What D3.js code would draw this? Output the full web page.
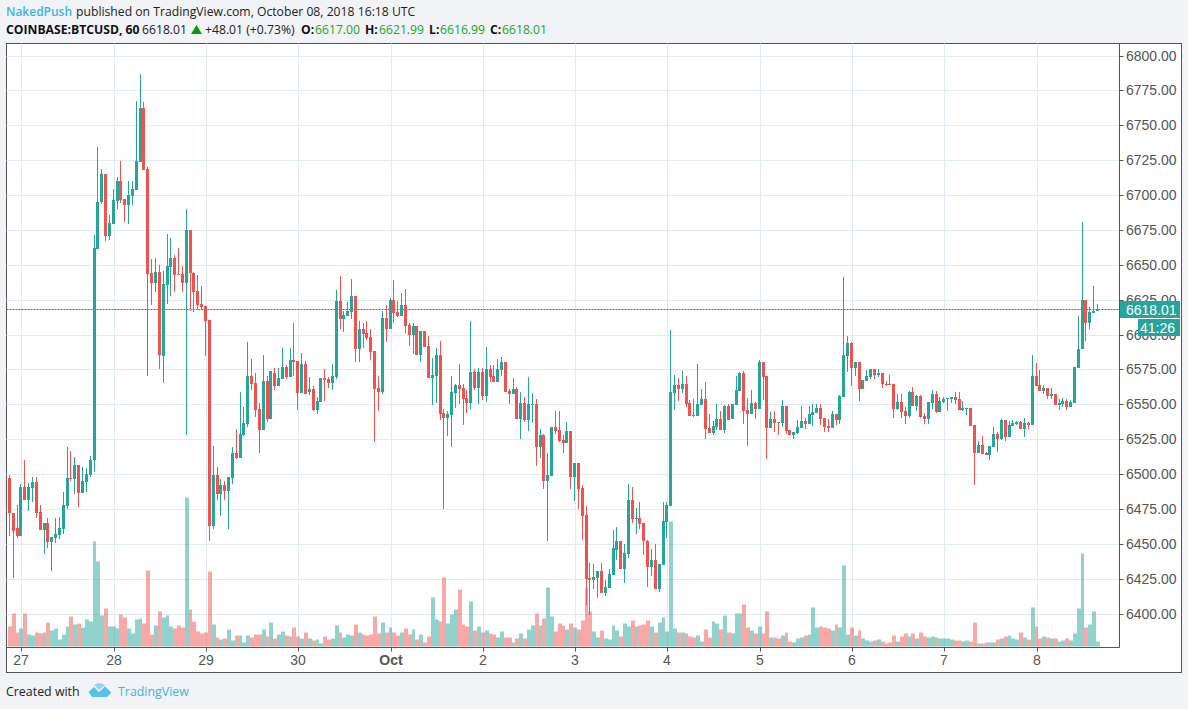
<!DOCTYPE HTML>
<html>
  <head>
    <meta charset="utf-8">
    <script src="https://d3js.org/d3.v7.min.js"></script>
    <style>
      body, html {
        width: 100%;
        height: 100%;
        margin: 0;
        background: #f1f3f6;
        overflow: hidden;
      }
      text {
        font-family: 'Open Sans', sans-serif;
      }
      .axis-label {
        font-family: 'Liberation Sans', sans-serif;
        font-size: 14px;
        fill: #555;
      }
    </style>
  </head>
  <body>
    <svg id="chart" width="1188" height="709"></svg>
    <script>
      // hourly candles, first one is 26 Sep 21:00 (hour -3 from 27 Sep 00:00)
      var firstHour = -3;
      var opens = [6497.4,6472.4,6461.7,6455.5,6491,6481.7,6490.2,6494.5,6473.1,6459.8,6465.2,6451.2,6454.5,6456.7,6461,6477.4,6497.4,6496.7,6506.7,6486.7,6494.5,6499.5,6509.8,
        6661.7,6695.2,6715.2,6671,6679.5,6696,6710.2,6697.4,6693.1,6699.5,6703.8,6723.8,6762.4,6718.8,6643.8,6636.7,6645.2,6584.5,6635.2,6648.8,6655.2,6643.1,6643.1,6636.7,6675.2,6644.5,6631,6621.7,6620.2,6610.2,
        6463.1,6499.5,6486,6492.4,6488.1,6497.4,6515.2,6511.7,6528.1,6536,6570.2,6565.2,6546.7,6531.7,6566.7,6539.5,6572.4,6563.1,6568.1,6576.7,6569.5,6581.7,
        6581,6558.1,6578.8,6558.8,6561,6546,6551.7,6568.8,6568.1,6565.2,6569.5,6623.8,6611,6613.1,6616,6627.4,6589.5,6603.8,6601,6598.1,6588.1,6561.7,6558.8,6611.7,
        6603.8,6624.5,6616,6613.1,6621,6606.7,6599.5,6606,6585.2,6602.4,6591.7,6568.8,6570.2,6585.2,6543.8,6540.2,6542.4,6558.1,6563.8,6561.7,6554.5,6551,
        6573.1,6561.7,6573.1,6556,6575.2,6570.2,6566,6574.5,6580.2,6559.5,6557.4,6561,6539.5,6551,6538.8,6549.5,6550.2,6519.5,6528.1,6495.2,6498.8,6533.8,6531.7,6524.5,6522.4,6531,6498.1,6508.1,6490.2,6471,
        6425.2,6423.8,6425.2,6430.2,6414.5,6418.1,6427.4,6445.9,6451.7,6431.7,6442.4,6481.7,6468.1,6468.8,6465.2,6452.4,6433.1,6438.1,6417.4,6434.5,6466,6477.4,
        6558.1,6563.8,6561,6564.5,6551,6542.4,6541.7,6549.5,6553.8,6533.1,6529.5,6533.8,6539.5,6531.7,6548.8,6539.5,6549.5,6559.5,6572.4,6546,6543.1,6551,6546.7,6580.2,
        6570.2,6533.1,6539.5,6537.4,6536.7,6548.8,6531.7,6528.1,6529.5,6533.1,6538.1,6536,6542.4,6543.8,6547.4,6540.2,6534.5,6533.1,6543.1,6538.8,6555.2,6584.5,6593.8,6576,6580.2,6561,6566.7,6569.5,6575.2,6571,
        6572.4,6564.5,6564.5,6564.5,6546.7,6551.7,6545.2,6541.7,6558.8,6548.8,6556,6541.7,6539.5,6551,6557.4,6544.5,6551.7,6553.8,6553.8,6555.2,6553.8,6546,6546.7,6547.4,6535.2,6515.2,6521,6515.2,6513.8,
        6519.5,6528.8,6525.2,6538.8,6526.7,6534.5,6536,6537.4,6532.4,6536.7,6535.2,6570.2,6563.8,6559.5,6561.7,6556,6557.4,6549.5,6550.2,6552.4,6548.1,6551,6576,6589.5,6624.5,6608.1,6615.2,6617];
      var highs = [6499.5,6472.4,6478.1,6493,6510.2,6493.8,6498.1,6498.1,6478.1,6465.2,6468.8,6455.2,6468.8,6469.5,6487.4,6519.5,6516.7,6512.4,6506.7,6505.2,6504.5,6513.1,6671.7,
        6734.5,6718.8,6715.2,6686,6704.5,6713.1,6724.5,6697.4,6710.2,6710.2,6767.4,6786.7,6766.7,6720.2,6654.5,6655.2,6650.2,6645.9,6672.4,6669.5,6657.4,6662.4,6649,6690.2,6675.2,6645.2,6642.4,6634.5,6620.2,6610.2,
        6520.2,6505.2,6496.7,6495.2,6498.1,6519.5,6532.4,6558.8,6548.1,6594.5,6582.4,6572.4,6551,6585.2,6570.2,6573.8,6576,6576,6590.2,6578.1,6590.2,6608.1,
        6581,6586.7,6581,6569.5,6563.1,6555.2,6568.8,6575.2,6569.5,6578.8,6631.7,6641.7,6616.7,6623.1,6640.2,6627.4,6609.5,6608.1,6609.5,6603.8,6588.1,6570.2,6616.7,6621,
        6626,6638.8,6623.8,6629.5,6632.4,6608.1,6608.1,6606,6602.4,6602.4,6598.8,6583.1,6590.2,6595.2,6546.7,6545.2,6570.2,6564.5,6578.8,6564.5,6560.2,6609.5,
        6575.2,6576,6576,6591,6578.1,6578.1,6582.4,6583.8,6580.2,6561,6568.8,6562.4,6558.8,6555.2,6569.5,6558.1,6553.8,6532.4,6528.8,6515.2,6533.8,6545.2,6545.2,6528.1,6537.4,6531,6508.1,6508.1,6492.4,6477.4,
        6436,6435.2,6430.2,6436,6423.8,6431.7,6460.2,6462.4,6451.7,6450.2,6493.1,6491,6476,6480.2,6465.2,6453.1,6446,6450.2,6435.2,6480.2,6480.2,6603.1,
        6571,6568.8,6573.8,6570.2,6553.1,6553.8,6578.8,6561,6566,6543.1,6538.1,6550.2,6545.2,6549.5,6550.2,6550.2,6570.2,6573.1,6573.8,6554.5,6560.2,6551.7,6581.7,6580.2,
        6570.2,6544.5,6545.2,6537.4,6553.1,6548.8,6531.7,6530.2,6538.8,6548.8,6540.2,6548.8,6550.2,6550.2,6550.2,6540.2,6539.5,6545.2,6543.1,6556.7,6641,6598.8,6594.5,6580.2,6580.2,6567.4,6574.5,6575.2,6575.2,6575.2,
        6572.4,6566.7,6571,6564.5,6557.4,6557.4,6548.1,6559.5,6562.4,6556.7,6556.7,6543.8,6551.7,6560.2,6559.5,6555.2,6555.2,6554.5,6555.2,6558.8,6558.8,6552.4,6547.4,6547.4,6535.2,6523.8,6527.4,6516,6520.2,
        6533.8,6530.2,6539.5,6538.8,6538.1,6538.8,6538.1,6538.1,6540.2,6537.4,6585.2,6579.5,6574.5,6563.8,6561.7,6561.7,6557.4,6553.8,6554.5,6553.8,6553.1,6576.7,6613.1,6681,6624.5,6619.5,6634.5,6621.99];
      var lows = [6455.5,6425.2,6454,6455.5,6481.7,6473.8,6480.2,6468.8,6459.8,6442.6,6446.9,6430.5,6450.5,6453.8,6457.4,6475.2,6495.2,6486,6476.7,6486.7,6487.4,6498.1,6501.7,
        6661.7,6693.8,6667.4,6668,6679.5,6690.2,6694.5,6681,6679.5,6693.1,6703.8,6723.8,6718.1,6570.2,6621,6630.2,6575.2,6565.2,6621.7,6627.4,6630.2,6642.4,6630.2,6528.1,6616.7,6616,6617.4,6617.4,6584.5,6452.4,
        6461,6481.7,6470.2,6481.7,6461,6493.1,6511,6511.7,6527.4,6533.8,6560.2,6541,6515.2,6531.7,6537.4,6539.5,6560.2,6563.1,6568.1,6568.1,6569.5,6570.2,
        6546,6558.1,6557.4,6556.7,6545.2,6543.1,6551.7,6552.4,6561.7,6560.2,6568.1,6603.8,6601.7,6613.1,6611,6580.2,6580.2,6590.2,6596,6581.7,6523.1,6545.2,6557.4,6594.5,
        6603.8,6608.1,6612.4,6613.1,6601,6591.7,6586,6585.2,6580.2,6591,6568.8,6549.5,6551,6538.8,6475.2,6527.4,6519.5,6547.4,6550.2,6535.2,6543.8,6546.7,
        6560.2,6550.2,6553.1,6551.7,6566,6566,6566,6570.2,6558.8,6550.2,6557.4,6539.5,6525.2,6537.4,6531,6536.7,6506,6511.7,6489.5,6452.4,6498.8,6528.8,6523.1,6515.2,6522.4,6489.5,6481,6475.2,6453.1,6406,
        6399,6417.4,6411,6414.5,6412.4,6418.1,6427.4,6438.1,6431.7,6421.7,6440.2,6465.2,6457.4,6461,6441.7,6418.8,6426.7,6417.4,6415.2,6434.5,6454.5,6477.4,
        6546,6552.4,6558.1,6548.1,6541.7,6541,6541.7,6549.5,6525.2,6529.5,6528.1,6531.7,6531.7,6529.5,6538.8,6539.5,6549.5,6559.5,6536,6520.2,6543.1,6539.5,6546.7,6553.1,
        6511,6533.1,6530.2,6528.1,6533.8,6528.8,6528.1,6525.2,6528.8,6533.1,6532.4,6536,6534.5,6543.8,6535.2,6530.2,6530.2,6533.1,6535.2,6536,6555.2,6573.1,6563.1,6570.2,6552.4,6561,6566.7,6568.1,6568.1,6569.5,
        6561.7,6563.1,6563.8,6540.2,6546,6540.2,6536,6540.2,6548.8,6545.2,6540.2,6536,6536,6546.7,6543.8,6544.5,6551,6545.2,6551,6550.2,6546,6545.2,6542.4,6534.5,6492.4,6515.2,6514.5,6513.8,6510.2,
        6519.5,6516,6524.5,6523.8,6526.7,6534.5,6535.2,6532.4,6526.7,6532.4,6535.2,6563.1,6559.5,6557.4,6553.8,6553.8,6549.5,6546,6548.1,6546,6548.1,6551,6576,6589.5,6595.2,6603.8,6615.2,6616.99];
      var closes = [6471.9,6459,6455.5,6491,6481.7,6491,6494.5,6471.9,6459.8,6465.2,6451.2,6455.2,6457.4,6461.7,6478.1,6497.4,6496.9,6506.7,6486.7,6495.2,6500.2,6510.2,6662.4,
        6695.2,6715.2,6671,6680.2,6696.7,6710.2,6696.7,6693.1,6700.2,6704.5,6724.5,6762.4,6718.1,6643.1,6636.7,6645.2,6585.2,6636,6649.5,6655.2,6642.4,6642.4,6636.7,6675.2,6643.8,6630.2,6621,6619.5,6609.5,6463.1,
        6499.5,6486,6492.4,6488.1,6498.1,6515.2,6511.7,6528.8,6536.7,6570.2,6564.5,6546,6531.7,6566.7,6539.5,6573.8,6563.1,6568.8,6576.7,6569.5,6581.7,6580.2,
        6558.1,6578.8,6557.4,6561,6546,6552.4,6568.8,6567.4,6565.2,6570.2,6623.8,6611,6613.8,6616.7,6627.4,6589.5,6603.8,6600.2,6597.4,6587.4,6561,6558.8,6611.7,6603.8,
        6624.5,6615.2,6613.1,6621,6606,6599.5,6606,6585.2,6602.4,6591,6568.8,6571,6585.2,6543.1,6540.2,6543.1,6558.8,6563.8,6561,6553.8,6551,6573.1,
        6561.7,6573.1,6556,6575.2,6569.5,6566,6575.2,6580.2,6558.8,6557.4,6561,6539.5,6551,6538.8,6550.2,6550.2,6519.5,6528.1,6495.2,6499.5,6533.8,6531,6523.8,6522.4,6531,6498.1,6508.1,6489.5,6470.2,6424.5,
        6423.8,6426,6430.2,6414.5,6418.8,6428.1,6446.7,6451.7,6431.7,6443.1,6481.7,6468.1,6468.8,6464.5,6451.7,6433.1,6438.1,6417.4,6435.2,6466.7,6478.1,6558.8,
        6563.8,6561,6564.5,6550.2,6541.7,6541.7,6550.2,6553.8,6532.4,6529.5,6534.5,6539.5,6531.7,6548.8,6538.8,6550.2,6560.2,6572.4,6545.2,6543.1,6551,6546.7,6580.2,6569.5,
        6533.1,6539.5,6536.7,6536.7,6548.8,6531,6528.1,6530.2,6533.8,6538.1,6536,6543.1,6544.5,6547.4,6539.5,6533.8,6533.1,6543.1,6538.8,6556,6585.2,6593.8,6576,6580.2,6561,6567.4,6570.2,6575.2,6571,6572.4,
        6564.5,6563.8,6563.8,6546.7,6551.7,6544.5,6541.7,6558.8,6548.8,6556,6541,6539.5,6551.7,6557.4,6544.5,6552.4,6553.8,6554.5,6555.2,6553.1,6546,6547.4,6547.4,6534.5,6515.2,6521,6514.5,6513.8,6520.2,
        6528.8,6525.2,6538.8,6526.7,6535.2,6536.7,6537.4,6532.4,6536.7,6535.2,6570.2,6563.1,6559.5,6561.7,6556,6557.4,6549.5,6551,6552.4,6548.1,6551.7,6576.7,6589.5,6624.5,6608.1,6616,6616.7,6618.01];
      var volumes = [60,99,42,54,99,36,33,42,39,42,72,48,54,21,36,60,90,66,69,57,81,75,315,255,93,114,60,60,54,96,87,54,39,81,84,69,228,36,63,105,87,93,60,54,63,57,447,111,75,45,39,42,225,
        66,27,21,24,51,18,33,33,12,33,27,36,36,51,30,72,24,36,45,33,30,57,30,24,42,24,18,21,9,30,21,24,63,42,27,36,33,66,42,36,33,36,90,39,72,42,
        57,42,33,42,54,36,51,21,36,12,30,147,81,75,207,69,96,111,171,66,60,135,48,60,42,48,39,36,27,45,27,27,12,24,39,24,51,63,99,63,84,177,90,45,69,63,51,69,57,51,78,177,
        105,45,27,48,24,21,63,48,30,69,60,78,60,63,66,78,60,42,72,87,45,375,54,42,42,39,30,27,33,15,51,27,75,69,51,93,42,39,99,99,126,57,48,39,60,39,
        105,27,27,24,33,42,15,12,24,27,33,36,117,57,60,57,54,48,66,57,243,36,57,33,48,24,18,15,18,21,15,9,12,33,15,30,39,30,39,24,42,30,27,30,27,24,24,24,21,18,18,15,18,15,72,9,9,12,12,
        12,21,24,30,33,24,21,42,27,21,117,60,24,30,27,24,24,15,18,24,18,39,114,279,57,66,105,15];
      var priceTicks = d3.range(6400, 6801, 25);
      var dayHours = [0, 24, 48, 72, 96, 120, 144, 168, 192, 216, 240, 264];
      var dayLabels = ["27", "28", "29", "30", "Oct", "2", "3", "4", "5", "6", "7", "8"];
      var lastPrice = 6618.01;

      var upColor = "#26a69a", downColor = "#ef5350";
      var frameColor = "#555";
      var left = 6.5, top_ = 43.5, right = 1119.5, bottom = 647.5, outerRight = 1181.5, outerBottom = 672.5;

      var svg = d3.select("#chart");
      var candles = opens.map((o, i) => ({hour: firstHour + i, o: o, h: highs[i], l: lows[i], c: closes[i], v: volumes[i]}));

      var x = d3.scaleLinear().domain([0, 264]).range([20.95, 1036]);
      var y = d3.scaleLinear().domain([6400, 6800]).range([613.6, 55.6]);
      var vol = d3.scaleLinear().domain([0, 447]).range([646.5, 497.5]);
      var col = h => Math.floor(x(h));

      svg.append("rect").attr("x", left).attr("y", top_).attr("width", outerRight - left).attr("height", outerBottom - top_)
        .attr("fill", "#fff").attr("stroke", frameColor);

      // grid
      var grid = svg.append("g").attr("stroke", "#e1ecf2");
      grid.selectAll("line.h").data(priceTicks).enter().append("line")
        .attr("x1", left).attr("x2", right)
        .attr("y1", d => Math.round(y(d)) + 0.5).attr("y2", d => Math.round(y(d)) + 0.5);
      grid.selectAll("line.v").data(dayHours).enter().append("line")
        .attr("x1", d => col(d) + 1.5).attr("x2", d => col(d) + 1.5)
        .attr("y1", top_).attr("y2", bottom);

      // volume under the candles
      svg.append("g").selectAll("rect").data(candles).enter().append("rect")
        .attr("x", d => col(d.hour) - 1)
        .attr("width", d => col(d.hour + 1) - col(d.hour))
        .attr("y", d => vol(d.v))
        .attr("height", d => vol(0) - vol(d.v))
        .attr("fill", d => d.c >= d.o ? upColor : downColor)
        .attr("fill-opacity", 0.5);

      // last price line
      svg.append("line")
        .attr("x1", left).attr("x2", right)
        .attr("y1", Math.round(y(lastPrice)) + 0.5).attr("y2", Math.round(y(lastPrice)) + 0.5)
        .attr("stroke", "#1f8a80").attr("stroke-dasharray", "2,1");

      // candles
      var candle = svg.append("g").selectAll("g").data(candles).enter().append("g")
        .attr("fill", d => d.c >= d.o ? upColor : downColor);
      candle.append("rect")
        .attr("x", d => col(d.hour)).attr("width", 1)
        .attr("y", d => Math.round(y(d.h)))
        .attr("height", d => Math.max(1, Math.round(y(d.l)) - Math.round(y(d.h))));
      candle.append("rect")
        .attr("x", d => col(d.hour) - 1).attr("width", 3)
        .attr("y", d => Math.round(y(Math.max(d.o, d.c))))
        .attr("height", d => Math.max(1, Math.round(y(Math.min(d.o, d.c))) - Math.round(y(Math.max(d.o, d.c)))));

      // axes frame
      svg.append("line").attr("x1", right).attr("x2", right).attr("y1", top_).attr("y2", bottom).attr("stroke", frameColor);
      svg.append("line").attr("x1", left).attr("x2", right).attr("y1", bottom).attr("y2", bottom).attr("stroke", frameColor);

      var priceAxis = svg.append("g");
      priceAxis.selectAll("line").data(priceTicks).enter().append("line")
        .attr("x1", right).attr("x2", right + 4)
        .attr("y1", d => Math.round(y(d)) + 0.5).attr("y2", d => Math.round(y(d)) + 0.5)
        .attr("stroke", frameColor);
      priceAxis.selectAll("text").data(priceTicks).enter().append("text")
        .attr("class", "axis-label")
        .attr("x", 1126).attr("y", d => y(d) + 5)
        .text(d => d3.format(".2f")(d));

      var timeAxis = svg.append("g");
      timeAxis.selectAll("line").data(dayHours).enter().append("line")
        .attr("x1", d => col(d) + 1.5).attr("x2", d => col(d) + 1.5)
        .attr("y1", bottom).attr("y2", bottom + 4)
        .attr("stroke", frameColor);
      timeAxis.selectAll("text").data(dayHours).enter().append("text")
        .attr("class", "axis-label")
        .attr("x", d => col(d) + 1).attr("y", 665)
        .attr("text-anchor", "middle")
        .style("font-weight", (d, i) => dayLabels[i] === "Oct" ? "bold" : null)
        .text((d, i) => dayLabels[i]);

      // last price + countdown tags
      svg.append("rect").attr("x", 1120).attr("y", 301).attr("width", 60).attr("height", 17).attr("fill", upColor);
      svg.append("rect").attr("x", 1138).attr("y", 319).attr("width", 42).attr("height", 17).attr("fill", upColor);
      svg.append("text").attr("class", "axis-label").style("fill", "#fff")
        .attr("x", 1126).attr("y", 314.5).text(d3.format(".2f")(lastPrice));
      svg.append("text").attr("class", "axis-label").style("fill", "#fff")
        .attr("x", 1175).attr("y", 332.5).attr("text-anchor", "end").text("41:26");

      // header
      var header = svg.append("g").style("font-size", "12.2px");
      function label(px, py, str, fill, bold) {
        return header.append("text").attr("x", px).attr("y", py).attr("fill", fill)
          .style("font-weight", bold ? "bold" : "normal").text(str);
      }
      label(6, 16, "NakedPush", "#3bb3e4", false).style("font-size", "12px").style("font-weight", 600);
      label(76, 16, "published on TradingView.com, October 08, 2018 16:18 UTC", "#222", false);
      label(6, 34, "COINBASE:BTCUSD, 60", "#111", true);
      label(142, 34, "6618.01", "#222", false);
      header.append("path").attr("d", "M191 34L196.5 25L202 34Z").attr("fill", "#0a9a0a");
      label(205, 34, "+48.01 (+0.73%)", "#222", false);
      var green = "#17a817";
      label(301, 34, "O:", "#111", true);
      label(315, 34, "6617.00", green, false);
      label(365, 34, "H:", "#111", true);
      label(379, 34, "6621.99", green, false);
      label(429, 34, "L:", "#111", true);
      label(440, 34, "6616.99", green, false);
      label(490, 34, "C:", "#111", true);
      label(502, 34, "6618.01", green, false);

      // footer
      var footer = svg.append("g").style("font-size", "12.4px");
      footer.append("text").attr("x", 6).attr("y", 696).attr("fill", "#222").text("Created with");
      footer.append("path")
        .attr("d", "M88.5 692L94 687L99 692L105 686.5L111.5 692.5L107 697L92 697Z")
        .attr("fill", "#5bc2e7");
      footer.append("path")
        .attr("d", "M93 686L98 683L103 684L106.5 687L105 685L99 690L95 685.5Z")
        .attr("fill", "#8fd6f1");
      footer.append("text").attr("x", 118).attr("y", 696).attr("fill", "#3bb3e4").text("TradingView");
    </script>
  </body>
</html>
